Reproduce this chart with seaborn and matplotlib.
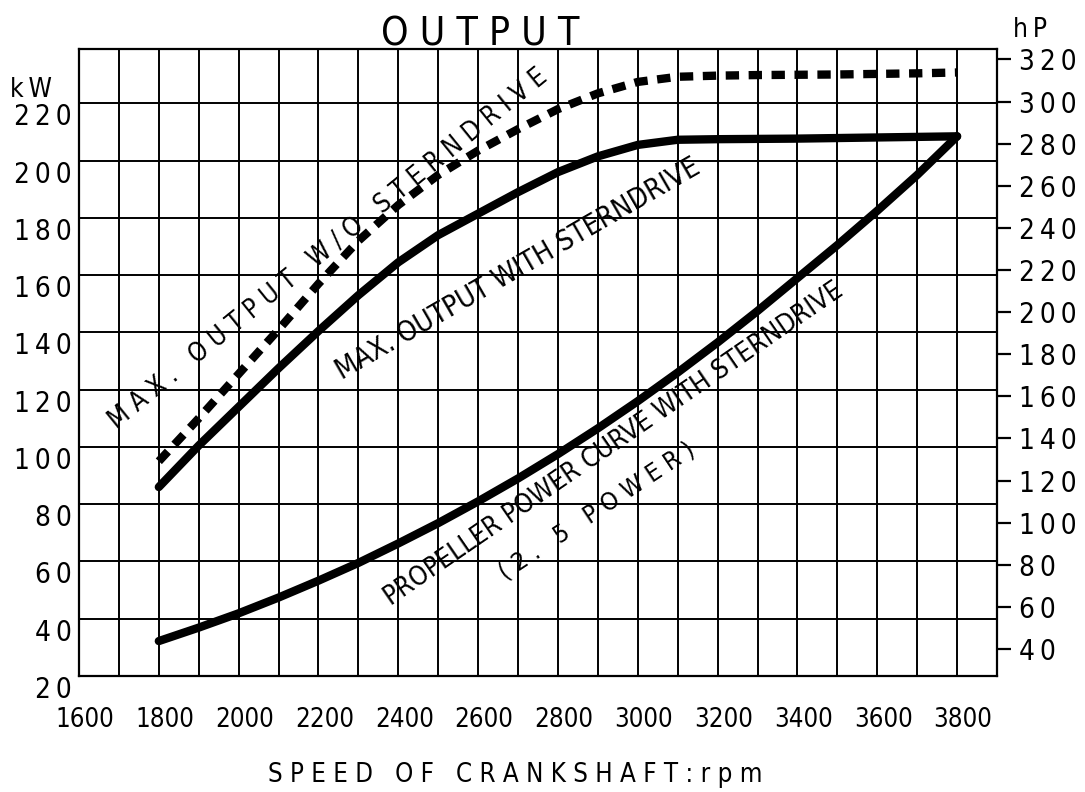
import matplotlib
matplotlib.use("Agg")
import matplotlib.pyplot as plt
import matplotlib.transforms as mtransforms
import seaborn as sns
import pandas as pd

# ---- data ----
rpm = [1800, 1900, 2000, 2100, 2200, 2300, 2400, 2500, 2600, 2700, 2800,
       2900, 3000, 3100, 3200, 3300, 3400, 3500, 3600, 3700, 3800]
kw_max_without = [95, 110, 125.5, 141, 157, 172, 184.5, 195, 203.5, 211, 218,
                  223.5, 227.5, 229.3, 229.7, 229.9, 230.0, 230.1, 230.3, 230.5, 230.8]
kw_max_with = [86, 100.5, 114, 127.5, 140.5, 153, 164.5, 174, 181.5, 189, 196,
               201.5, 205.5, 207.3, 207.5, 207.6, 207.7, 207.9, 208.1, 208.3, 208.5]
kw_propeller = [32.2, 36.9, 41.9, 47.4, 53.3, 59.5, 66.3, 73.4, 81.0, 89.0, 97.5,
                106.5, 116.0, 126.0, 136.5, 147.5, 159.0, 170.5, 182.5, 195.0, 208.5]

x_ticks = [1600, 1800, 2000, 2200, 2400, 2600, 2800, 3000, 3200, 3400, 3600, 3800]
kw_ticks = [20, 40, 60, 80, 100, 120, 140, 160, 180, 200, 220]
hp_ticks = [40, 60, 80, 100, 120, 140, 160, 180, 200, 220, 240, 260, 280, 300, 320]
KW_PER_HP = 0.7355

title = "OUTPUT"
xlabel = "SPEED OF CRANKSHAFT:rpm"
label_without = "MAX. OUTPUT W/O STERNDRIVE"
label_with = "MAX. OUTPUT WITH STERNDRIVE"
label_prop = "PROPELLER POWER CURVE WITH STERNDRIVE"
label_prop2 = "(2. 5 POWER)"

THIN = "\u2009"


def spaced(s, sep=" ", wsep="   "):
    return wsep.join(sep.join(w) for w in s.split(" "))


sns.set_style("white")
plt.rcParams["font.family"] = ["DejaVu Sans"]
plt.rcParams["font.stretch"] = "condensed"
plt.rcParams["text.color"] = "black"
plt.rcParams["xtick.color"] = "black"
plt.rcParams["ytick.color"] = "black"

fig = plt.figure(figsize=(10.85, 7.92), dpi=100)
ax = fig.add_axes([79 / 1085, 1 - 676 / 792, (997 - 79) / 1085, (676 - 49) / 792])

df = pd.DataFrame({"rpm": rpm, "without": kw_max_without, "with": kw_max_with,
                   "prop": kw_propeller})

sns.lineplot(data=df, x="rpm", y="without", ax=ax, color="black", lw=6.0)
ln = ax.lines[-1]
ln.set_linestyle((0, (1.6, 1.15)))
ln.set_dash_capstyle("butt")
sns.lineplot(data=df, x="rpm", y="with", ax=ax, color="black", lw=6.0,
             solid_capstyle="round", solid_joinstyle="round")
sns.lineplot(data=df, x="rpm", y="prop", ax=ax, color="black", lw=6.0,
             solid_capstyle="round", solid_joinstyle="round")

ax.set_xlim(1600, 3900)
ax.set_ylim(20, 239)

# grid
for v in range(1700, 3900, 100):
    ax.axvline(v, color="black", lw=1.4, zorder=0)
for v in kw_ticks[1:]:
    ax.axhline(v, color="black", lw=1.4, zorder=0)
for sp in ax.spines.values():
    sp.set_color("black")
    sp.set_linewidth(1.6)

ax.set_xticks(x_ticks)
ax.set_xticklabels([str(t) for t in x_ticks], fontsize=18.5)
ax.set_yticks(kw_ticks)
ax.set_yticklabels([THIN.join(str(t)) for t in kw_ticks], fontsize=20, va="top")
ax.tick_params(axis="x", length=0, pad=22)
ax.tick_params(axis="y", length=0, pad=5)
ax.set_xlabel("")
ax.set_ylabel("")
shift = mtransforms.ScaledTranslation(6 / 100, 0, fig.dpi_scale_trans)
for lbl in ax.get_xticklabels():
    lbl.set_transform(lbl.get_transform() + shift)

sec = ax.secondary_yaxis("right", functions=(lambda k: k / KW_PER_HP,
                                             lambda h: h * KW_PER_HP))
sec.set_yticks(hp_ticks)
sec.set_yticklabels([THIN.join(str(t)) for t in hp_ticks], fontsize=20)
sec.tick_params(axis="y", direction="out", length=10, width=1.6, pad=6,
                colors="black")
sec.spines["right"].set_visible(False)

# texts
fig.text(480 / 1085, 1 - 46 / 792, spaced(title), ha="center", va="baseline",
         fontsize=28)
fig.text(10 / 1085, 1 - 97 / 792, "k" + THIN + "W", ha="left", va="baseline", fontsize=19)
fig.text(1013 / 1085, 1 - 37 / 792, "h" + THIN + "P", ha="left", va="baseline", fontsize=19)
fig.text(515 / 1085, 1 - 775 / 792, spaced(xlabel), ha="center", va="center",
         fontsize=18.5)

ax.text(2225, 169, spaced(label_without), rotation=39, ha="center", va="center",
        fontsize=18.5, rotation_mode="anchor")
ax.text(2700, 162, label_with, rotation=30, ha="center", va="center",
        fontsize=20, rotation_mode="anchor")
ax.text(2940, 101, label_prop, rotation=34.5, ha="center", va="center",
        fontsize=19, rotation_mode="anchor")
ax.text(2898, 77.6, spaced(label_prop2), rotation=33.5, ha="center", va="center",
        fontsize=18, rotation_mode="anchor")

fig.savefig("out.png", dpi=100)
